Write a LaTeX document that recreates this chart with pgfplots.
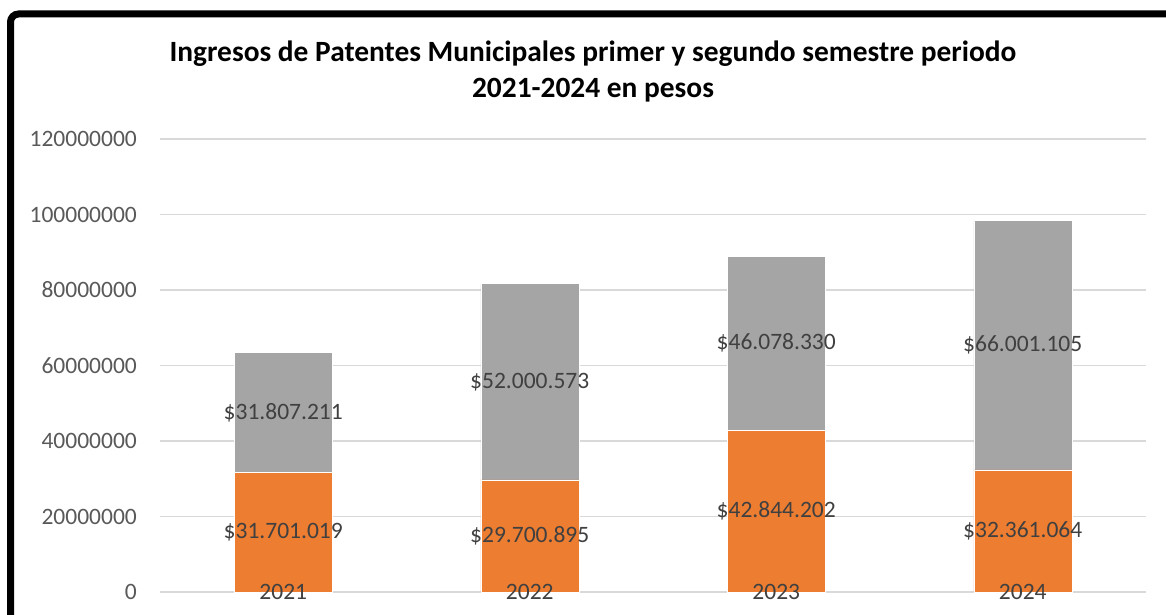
\documentclass[border=0pt]{standalone}
\usepackage{pgfplots}
\pgfplotsset{compat=1.18}
\usepackage{fontspec}
\setmainfont{Carlito}
\definecolor{orangeA}{HTML}{ED7D31}
\definecolor{grayA}{HTML}{A5A5A5}
\definecolor{gridc}{HTML}{D9D9D9}
\definecolor{tickc}{HTML}{595959}
\definecolor{labc}{HTML}{404040}
\tikzset{lab/.style={font=\fontsize{23.5bp}{28bp}\selectfont, text=labc, inner sep=0pt}}
\begin{document}
\begin{tikzpicture}[x=1bp,y=1bp]
\useasboundingbox (0,0) rectangle (1166,615);
\draw[line width=7bp, rounded corners=8bp] (10.5,-5) -- (10.5,601) -- (1175,601);
\node[font=\fontsize{29.4bp}{35bp}\selectfont\bfseries, anchor=base] at (593,553) {Ingresos de Patentes Municipales primer y segundo semestre periodo};
\node[font=\fontsize{29.4bp}{35bp}\selectfont\bfseries, anchor=base] at (593,517) {2021-2024 en pesos};
\begin{axis}[
  at={(160bp,23bp)}, anchor=south west,
  width=986bp, height=453bp, scale only axis,
  xmin=-0.5, xmax=3.5, ymin=0, ymax=120000000,
  ybar stacked, bar width=98bp,
  axis line style={draw=none},
  major tick length=0pt,
  scaled y ticks=false,
  ymajorgrids, grid style={gridc, line width=1.5bp},
  ytick={0,20000000,40000000,60000000,80000000,100000000,120000000},
  yticklabels={0,20000000,40000000,60000000,80000000,100000000,120000000},
  xtick={0,1,2,3},
  xticklabels={},
  yticklabel style={font=\fontsize{23.5bp}{28bp}\selectfont, text=tickc, anchor=east, inner sep=0pt, xshift=-23bp},
  clip=false,
]
\addplot[fill=orangeA, draw=white, line width=0.4bp] coordinates {(0,31701019) (1,29700895) (2,42844202) (3,32361064)};
\addplot[fill=grayA, draw=white, line width=0.4bp] coordinates {(0,31807211) (1,52000573) (2,46078330) (3,66001105)};
\coordinate (a0) at (axis cs:0,15850509);
\coordinate (a1) at (axis cs:1,14850447);
\coordinate (a2) at (axis cs:2,21422101);
\coordinate (a3) at (axis cs:3,16180532);
\coordinate (b0) at (axis cs:0,47604624);
\coordinate (b1) at (axis cs:1,55701181);
\coordinate (b2) at (axis cs:2,65883367);
\coordinate (b3) at (axis cs:3,65361616);
\coordinate (y0) at (axis cs:0,0);
\coordinate (y1) at (axis cs:1,0);
\coordinate (y2) at (axis cs:2,0);
\coordinate (y3) at (axis cs:3,0);
\end{axis}
\node[lab] at (a0) {\$31.701.019};
\node[lab] at (a1) {\$29.700.895};
\node[lab] at (a2) {\$42.844.202};
\node[lab] at (a3) {\$32.361.064};
\node[lab] at (b0) {\$31.807.211};
\node[lab] at (b1) {\$52.000.573};
\node[lab] at (b2) {\$46.078.330};
\node[lab] at (b3) {\$66.001.105};
\node[lab, yshift=0.5bp] at (y0) {2021};
\node[lab, yshift=0.5bp] at (y1) {2022};
\node[lab, yshift=0.5bp] at (y2) {2023};
\node[lab, yshift=0.5bp] at (y3) {2024};
\end{tikzpicture}
\end{document}
